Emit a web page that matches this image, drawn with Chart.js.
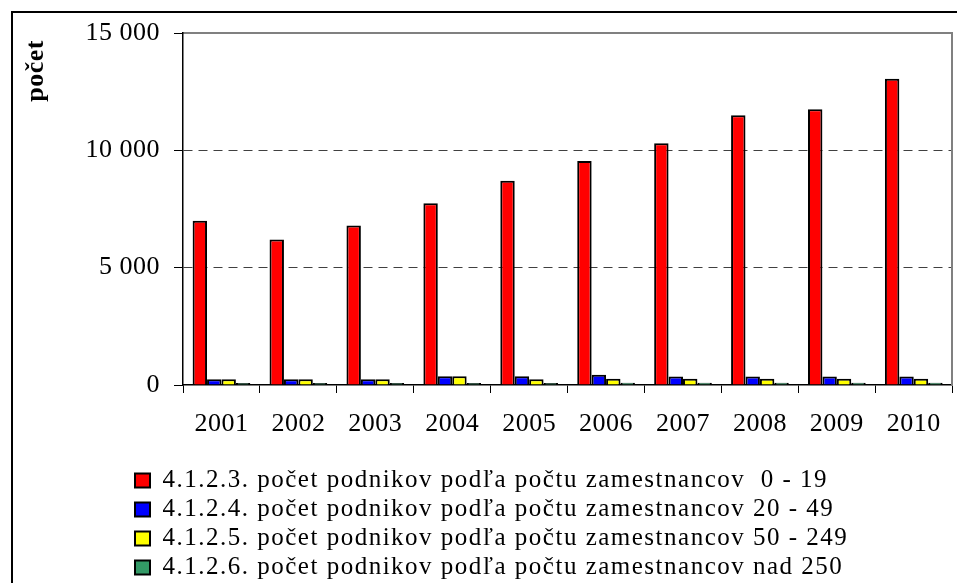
<!DOCTYPE html>
<html>
<head>
<meta charset="utf-8">
<script src="https://cdn.jsdelivr.net/npm/chart.js@4/dist/chart.umd.min.js"></script>
<style>
  body { margin: 0; background: #fff; }
  #wrap { position: relative; width: 957px; height: 583px; overflow: hidden; }
  #frame { position: absolute; left: 11px; top: 11px; width: 1000px; height: 700px; border-top: 2px solid #000; border-left: 2px solid #000; pointer-events: none; }
  canvas { position: absolute; left: 0; top: 0; }
</style>
</head>
<body>
<div id="wrap">
  <div id="frame"></div>
  <canvas id="chart" width="957" height="583"></canvas>
</div>
<script>
const years = ['2001', '2002', '2003', '2004', '2005', '2006', '2007', '2008', '2009', '2010'];

const size0to19 = [7000, 6200, 6800, 7750, 8700, 9550, 10300, 11500, 11750, 13050];
const size20to49 = [250, 250, 250, 370, 370, 440, 360, 360, 360, 360];
const size50to249 = [250, 250, 250, 370, 250, 270, 270, 270, 270, 270];
const sizeOver250 = [90, 90, 90, 90, 90, 100, 100, 100, 100, 100];

const seriesNames = [
    '4.1.2.3. počet podnikov podľa počtu zamestnancov  0 - 19',
    '4.1.2.4. počet podnikov podľa počtu zamestnancov 20 - 49',
    '4.1.2.5. počet podnikov podľa počtu zamestnancov 50 - 249',
    '4.1.2.6. počet podnikov podľa počtu zamestnancov nad 250'
];
const seriesColors = ['#ff0000', '#0000ff', '#ffff00', '#339966'];
const yTicks = [0, 5000, 10000, 15000];

const serif = '"Liberation Serif", "Times New Roman", serif';

const fmt = (v) => String(v).replace(/\B(?=(\d{3})+(?!\d))/g, ' ');

// excel-ish text spacing + legend placement
const tweaks = {
    id: 'tweaks',
    beforeLayout(chart) {
        chart.ctx.letterSpacing = '0.5px';
    },
    afterLayout(chart) {
        const legend = chart.legend;
        legend.left = 131;
        if (!legend._spaced) {
            const draw = legend.draw;
            legend.draw = function (area) {
                this.ctx.letterSpacing = '1.5px';
                draw.call(this, area);
                this.ctx.letterSpacing = '0.5px';
            };
            legend._spaced = true;
        }
    },
    beforeDraw(chart) {
        chart.ctx.letterSpacing = '0.5px';
    }
};

const values = [size0to19, size20to49, size50to249, sizeOver250];

new Chart(document.getElementById('chart'), {
    type: 'bar',
    data: {
        labels: years,
        datasets: values.map((data, i) => ({
            label: seriesNames[i],
            data: data,
            backgroundColor: seriesColors[i],
            borderColor: '#000',
            borderWidth: 2,
            categoryPercentage: 0.75,
            barPercentage: 1.0
        }))
    },
    options: {
        responsive: false,
        devicePixelRatio: 1,
        animation: false,
        layout: { padding: { top: 33, right: 4, bottom: -7, left: 0 } },
        plugins: {
            tooltip: { enabled: false },
            legend: {
                position: 'bottom',
                align: 'start',
                labels: {
                    color: '#000',
                    font: { family: serif, size: 25 },
                    boxWidth: 15,
                    boxHeight: 14,
                    padding: 4
                }
            }
        },
        scales: {
            x: {
                afterFit: (scale) => { scale.height = 79; },
                grid: {
                    offset: true,
                    drawOnChartArea: false,
                    drawTicks: true,
                    tickLength: 8,
                    tickColor: '#000'
                },
                border: { color: '#000', width: 1.5 },
                ticks: { color: '#000', font: { family: serif, size: 26 }, padding: 16 }
            },
            x2: {
                position: 'top',
                labels: years,
                grid: { display: false, drawTicks: false },
                ticks: { display: false },
                border: { color: '#808080', width: 2 }
            },
            y: {
                min: 0,
                max: 15000,
                afterFit: (scale) => { scale.width = 183; },
                afterBuildTicks: (scale) => {
                    scale.ticks = yTicks.map((v) => ({ value: v }));
                },
                grid: {
                    color: (ctx) => (ctx.tick && (ctx.tick.value === 5000 || ctx.tick.value === 10000)) ? '#404040' : 'rgba(0,0,0,0)',
                    lineWidth: 1,
                    drawTicks: true,
                    tickLength: 9,
                    tickColor: '#000'
                },
                border: { color: '#000', width: 1.5, dash: [9, 6] },
                ticks: {
                    color: '#000',
                    font: { family: serif, size: 26 },
                    padding: 14,
                    callback: (v) => fmt(v)
                },
                title: {
                    display: true,
                    text: 'počet\u00a0',
                    align: 'end',
                    color: '#000',
                    font: { family: serif, size: 26, weight: 'bold' },
                    padding: { top: 21, bottom: 0 }
                }
            },
            y2: {
                position: 'right',
                grid: { display: false, drawTicks: false },
                ticks: { display: false },
                border: { color: '#808080', width: 2 }
            }
        }
    },
    plugins: [tweaks]
});
</script>
</body>
</html>
